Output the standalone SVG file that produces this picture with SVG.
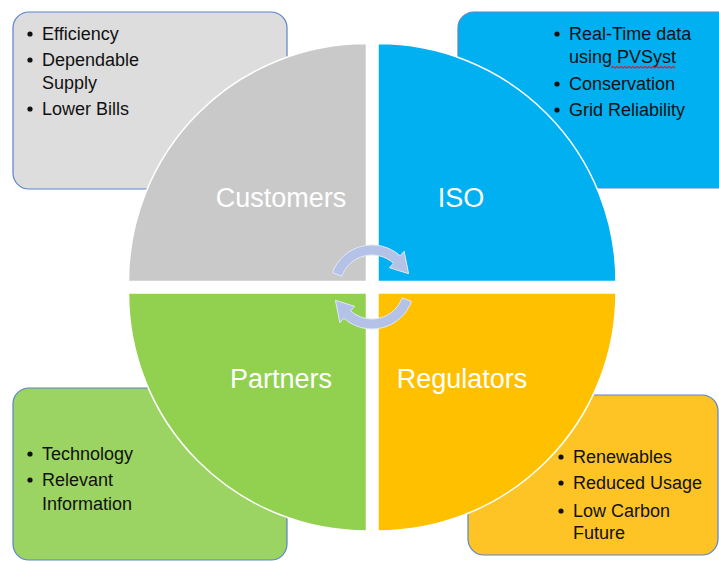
<svg xmlns="http://www.w3.org/2000/svg" width="719" height="561" viewBox="0 0 719 561">
<style>
.box{stroke:#5A84C8;stroke-width:1.2}
.q{stroke:#ffffff;stroke-width:1.5}
.b{font-family:"Liberation Sans",Arial,sans-serif;font-size:18px;fill:#111111}
.t{font-family:"Liberation Sans",Arial,sans-serif;font-size:27px;fill:#ffffff}
.dot{fill:#111111}
.arr{fill:#B3C2E6;stroke:#E2E8F5;stroke-width:1}
</style>
<rect width="719" height="561" fill="#ffffff"/>
<g id="box-customers">
<rect class="box" x="13" y="12" width="274" height="177" rx="16" fill="#DDDDDD"/>
<circle class="dot" cx="30" cy="34" r="2.6"/><text class="b" x="42" y="40">Efficiency</text>
<circle class="dot" cx="30" cy="60" r="2.6"/><text class="b" x="42" y="66">Dependable</text>
<text class="b" x="42" y="89">Supply</text>
<circle class="dot" cx="30" cy="109" r="2.6"/><text class="b" x="42" y="115">Lower Bills</text>
</g>
<g id="box-iso">
<rect class="box" x="458" y="12" width="280" height="176" rx="16" fill="#00B0F0"/>
<circle class="dot" cx="557" cy="34" r="2.6"/><text class="b" x="569" y="40">Real-Time data</text>
<text class="b" x="569" y="63">using PVSyst</text>
<path d="M611,68 l2,-1.5 l2,1.5 l2,-1.5 l2,1.5 l2,-1.5 l2,1.5 l2,-1.5 l2,1.5 l2,-1.5 l2,1.5 l2,-1.5 l2,1.5 l2,-1.5 l2,1.5 l2,-1.5 l2,1.5 l2,-1.5 l2,1.5 l2,-1.5 l2,1.5 l2,-1.5 l2,1.5 l2,-1.5 l2,1.5 l2,-1.5 l2,1.5 l2,-1.5 l2,1.5 l2,-1.5 l2,1.5 l2,-1.5 l2,1.5" fill="none" stroke="#E02020" stroke-width="1.2"/>
<circle class="dot" cx="557" cy="84" r="2.6"/><text class="b" x="569" y="90">Conservation</text>
<circle class="dot" cx="557" cy="110" r="2.6"/><text class="b" x="569" y="116">Grid Reliability</text>
</g>
<g id="box-partners">
<rect class="box" x="13" y="388" width="274" height="172" rx="16" fill="#9BD463"/>
<circle class="dot" cx="30" cy="454" r="2.6"/><text class="b" x="42" y="460">Technology</text>
<circle class="dot" cx="30" cy="480" r="2.6"/><text class="b" x="42" y="486">Relevant</text>
<text class="b" x="42" y="510">Information</text>
</g>
<g id="box-regulators">
<rect class="box" x="468" y="395" width="250" height="160" rx="16" fill="#FEC425"/>
<circle class="dot" cx="561" cy="457" r="2.6"/><text class="b" x="573" y="463">Renewables</text>
<circle class="dot" cx="561" cy="483" r="2.6"/><text class="b" x="573" y="489">Reduced Usage</text>
<circle class="dot" cx="561" cy="511" r="2.6"/><text class="b" x="573" y="517">Low Carbon</text>
<text class="b" x="573" y="539">Future</text>
</g>
<g id="customers">
<path class="q" d="M366.5,281.5 L128.5,281.5 A238,238 0 0 1 366.5,43.5 Z" fill="#C9C9C9"/>
<text class="t" x="281" y="207" text-anchor="middle">Customers</text>
</g>
<g id="iso">
<path class="q" d="M378,281.5 L378,43.5 A238,238 0 0 1 616,281.5 Z" fill="#00B0F0"/>
<text class="t" x="461" y="207" text-anchor="middle">ISO</text>
</g>
<g id="regulators">
<path class="q" d="M378,293 L616,293 A238,238 0 0 1 378,531 Z" fill="#FFC000"/>
<text class="t" x="462" y="388" text-anchor="middle">Regulators</text>
</g>
<g id="partners">
<path class="q" d="M366.5,293 L366.5,531 A238,238 0 0 1 128.5,293 Z" fill="#92D050"/>
<text class="t" x="281" y="388" text-anchor="middle">Partners</text>
</g>
<g id="connectors">
<path class="arr" d="M332.5,272.6 A42,42 0 0 1 400.1,255.8 L404.1,251.3 L408.6,273.7 L389.4,267.7 L393.4,263.2 A32,32 0 0 0 341.9,276.1 Z"/>
<path class="arr" transform="rotate(180 372 287)" d="M332.5,272.6 A42,42 0 0 1 400.1,255.8 L404.1,251.3 L408.6,273.7 L389.4,267.7 L393.4,263.2 A32,32 0 0 0 341.9,276.1 Z"/>
</g>
</svg>
